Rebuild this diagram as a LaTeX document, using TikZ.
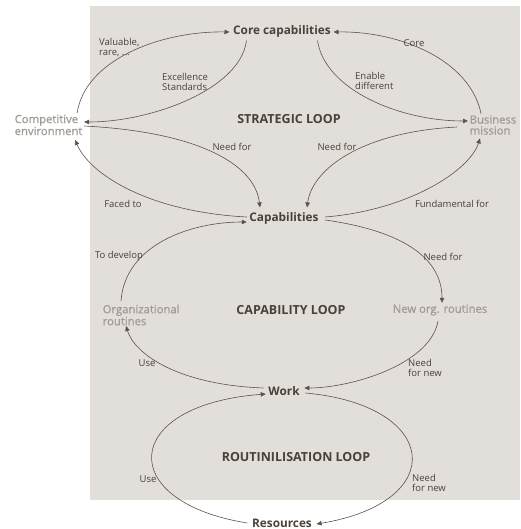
\documentclass[tikz,border=0pt]{standalone}
\usepackage{fontspec}
\setmainfont{Open Sans}
\newfontfamily\grayfam[FakeBold=0.8]{Open Sans}
\usetikzlibrary{arrows.meta}
\definecolor{bgc}{HTML}{E2DED9}
\definecolor{txt}{HTML}{4A4139}
\definecolor{gtxt}{HTML}{A19B95}
\definecolor{lnc}{HTML}{5B534B}
\tikzset{
  lbl/.style={font=\fontsize{9.5}{10}\selectfont, text=txt, inner sep=0pt, align=left},
  keynode/.style={font=\bfseries\fontsize{11.8}{12}\selectfont, text=txt, inner sep=1.5pt},
  loopname/.style={font=\bfseries\fontsize{12.5}{13}\selectfont, text=txt, inner sep=0pt},
  graynode/.style={font=\grayfam\fontsize{11.3}{11}\selectfont, text=gtxt, inner sep=1.5pt, align=left},
  arr/.style={draw=lnc, line width=0.6pt, -{Triangle[length=5pt,width=4.5pt]}}
}
\begin{document}
\begin{tikzpicture}[x=1pt,y=-1pt]
\useasboundingbox (0,0) rectangle (520,529);
\fill[bgc] (90,6) rectangle (520,500);
% main nodes
\node[keynode] (core) at (282,31) {Core capabilities};
\node[graynode, anchor=west] (comp) at (13,125) {Competitive\\environment};
\node[graynode, anchor=west] (bus) at (468,125) {Business\\mission};
\node[loopname] (strat) at (289,119) {STRATEGIC LOOP};
\node[keynode] (cap) at (284,218) {Capabilities};
\node[graynode, anchor=west] (org) at (101,315) {Organizational\\routines};
\node[loopname] (capl) at (291,310) {CAPABILITY LOOP};
\node[graynode] (newr) at (440,310) {New org. routines};
\node[keynode] (work) at (284,391) {Work};
\node[loopname] (rout) at (296,457) {ROUTINILISATION LOOP};
\node[keynode] (res) at (282,523) {Resources};
% connectors
\draw[arr] ([shift={(-7,0)}]comp.north east) .. controls (85,60) and (160,31) .. ([shift={(-2,1)}]core.west);
\draw[arr] ([shift={(15,2)}]core.south west) .. controls (240,90) and (150,122) .. ([shift={(0,-3)}]comp.east);
\draw[arr] ([shift={(13,0)}]bus.north west) .. controls (470,60) and (400,31) .. ([shift={(1,1)}]core.east);
\draw[arr] ([shift={(-15,2)}]core.south east) .. controls (325,90) and (400,121) .. ([shift={(0,-4)}]bus.west);
\draw[arr] ([shift={(0,1)}]comp.east) .. controls (200,132) and (255,165) .. ([shift={(-24,-3)}]cap.north);
\draw[arr] ([shift={(-1,-1)}]cap.west) .. controls (150,212) and (90,175) .. ([shift={(-9,3)}]comp.south east);
\draw[arr] ([shift={(-11,2)}]bus.west) .. controls (360,132) and (312,170) .. ([shift={(23,-3)}]cap.north);
\draw[arr] ([shift={(5,-1)}]cap.east) .. controls (410,210) and (470,170) .. ([shift={(12,2)}]bus.south west);
\draw[arr] ([shift={(5,2)}]cap.east) .. controls (410,232) and (442,262) .. ([shift={(2,0)}]newr.north);
\draw[arr] ([shift={(-2,4)}]newr.south) .. controls (430,365) and (350,388) .. ([shift={(3,-3)}]work.east);
\draw[arr] ([shift={(-3,-3)}]work.west) .. controls (180,385) and (135,355) .. ([shift={(25,-1)}]org.south west);
\draw[arr] ([shift={(20,-2)}]org.north west) .. controls (125,245) and (190,222) .. ([shift={(-1,4)}]cap.west);
\draw[arr] ([shift={(-3,0)}]res.west) .. controls (115,502) and (120,405) .. ([shift={(-1,3)}]work.west);
\draw[arr] ([shift={(4,2)}]work.east) .. controls (440,405) and (450,502) .. ([shift={(3,1)}]res.east);
% labels
\node[lbl, anchor=west] (l1) at (99,48) {Valuable,\\rare, ...};
\node[lbl, anchor=west] (l2) at (162,82) {Excellence\\Standards};
\node[lbl] (l3) at (414,43) {Core};
\node[lbl, anchor=west] (l4) at (355,81) {Enable\\different};
\node[lbl] (l5) at (232,147) {Need for};
\node[lbl] (l6) at (337,147) {Need for};
\node[lbl] (l7) at (123,204) {Faced to};
\node[lbl] (l8) at (452,204) {Fundamental for};
\node[lbl] (l9) at (119,256) {To develop};
\node[lbl] (l10) at (443,257) {Need for};
\node[lbl] (l11) at (147,363) {Use};
\node[lbl, anchor=west] (l12) at (408,368) {Need\\for new};
\node[lbl] (l13) at (148,479) {Use};
\node[lbl, anchor=west] (l14) at (412,483) {Need\\for new};
\end{tikzpicture}
\end{document}
